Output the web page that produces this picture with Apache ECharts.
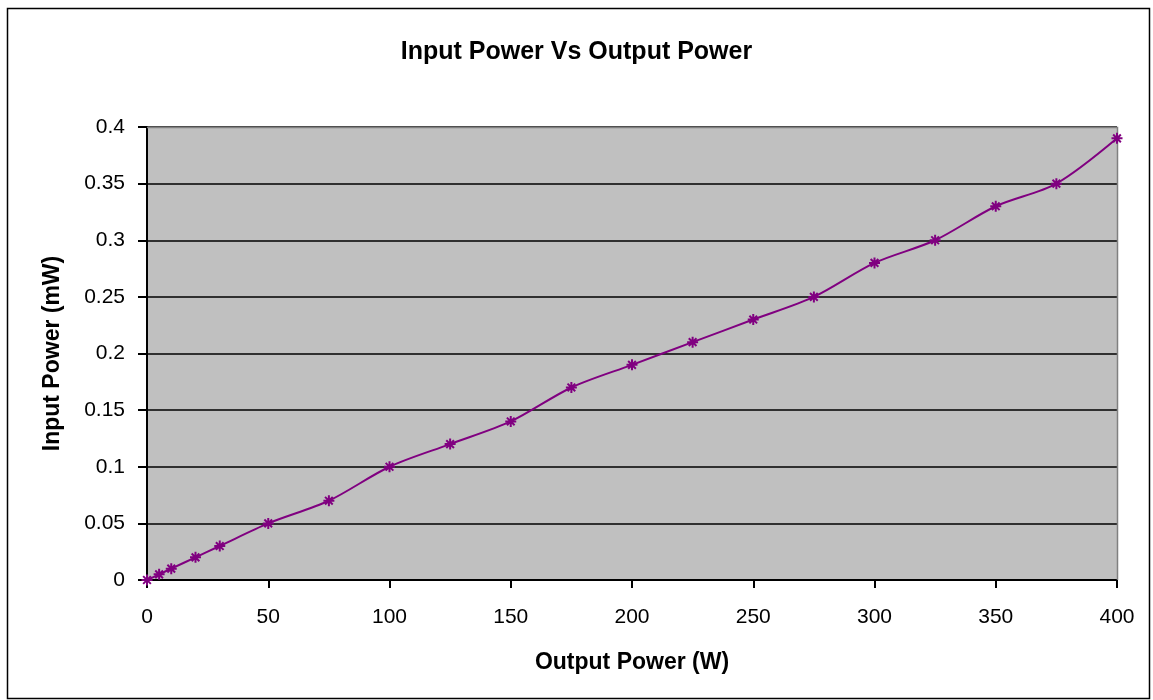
<!DOCTYPE html>
<html><head><meta charset="utf-8">
<script src="https://cdn.jsdelivr.net/npm/echarts@6/dist/echarts.min.js"></script>
<style>html,body{margin:0;padding:0;background:#fff}#c{width:1153px;height:700px}</style>
</head><body><div id="c"></div>
<script>
const outputPower = [0, 5, 10, 20, 30, 50, 75, 100, 125, 150, 175, 200, 225, 250, 275, 300, 325, 350, 375, 400];
const inputPower = [0, 0.005, 0.01, 0.02, 0.03, 0.05, 0.07, 0.1, 0.12, 0.14, 0.17, 0.19, 0.21, 0.23, 0.25, 0.28, 0.30, 0.33, 0.35, 0.39];
const titleText = 'Input Power Vs Output Power';
const xName = 'Output Power (W)';
const yName = 'Input Power (mW)';

const chart = echarts.init(document.getElementById('c'));
const F = 'Liberation Sans, Arial, sans-serif';
chart.setOption({
  animation: false,
  backgroundColor: '#fff',
  title: {text: titleText, left: 'center', top: 35, textStyle: {fontFamily: F, fontWeight: 'bold', fontSize: 25, color: '#000'}},
  graphic: [
    {type: 'rect', shape: {x: 7.5, y: 8.5, width: 1142, height: 690}, style: {fill: 'none', stroke: '#000', lineWidth: 1.5}, silent: true, z: -1},
    {type: 'polyline', shape: {points: [[147, 127.5], [1117.5, 127.5], [1117.5, 580]]}, style: {fill: 'none', stroke: '#808080', lineWidth: 1.5}, z: 5}
  ],
  grid: {left: 147, top: 127, right: 36, bottom: 120, show: true, backgroundColor: '#c0c0c0', borderWidth: 0},
  xAxis: {
    type: 'value', min: 0, max: 400, interval: 50,
    name: xName, nameLocation: 'middle', nameGap: 71,
    nameTextStyle: {fontFamily: F, fontWeight: 'bold', fontSize: 23, color: '#000'},
    axisLine: {show: true, onZero: false, lineStyle: {color: '#000', width: 2}},
    axisTick: {show: true, inside: false, length: 8, lineStyle: {color: '#000', width: 2}},
    axisLabel: {fontFamily: F, fontSize: 21, color: '#000', margin: 27},
    splitLine: {show: false}
  },
  yAxis: {
    type: 'value', min: 0, max: 0.4, interval: 0.05,
    name: yName, nameLocation: 'middle', nameGap: 83, nameRotate: 90,
    nameTextStyle: {fontFamily: F, fontWeight: 'bold', fontSize: 23, color: '#000'},
    axisLine: {show: true, lineStyle: {color: '#000', width: 2}},
    axisTick: {show: true, inside: false, length: 9, lineStyle: {color: '#000', width: 2}},
    axisLabel: {fontFamily: F, fontSize: 21, color: '#000', margin: 22, formatter: v => String(+v.toFixed(2))},
    splitLine: {show: true, lineStyle: {color: '#000', width: 1.5}}
  },
  series: [{
    type: 'line', smooth: 0.3,
    data: outputPower.map((x, i) => [x, inputPower[i]]),
    lineStyle: {color: '#800080', width: 2},
    symbol: 'path://M0,5L10,5M5,0L5,10M1.5,1.5L8.5,8.5M8.5,1.5L1.5,8.5',
    symbolSize: 11,
    itemStyle: {color: 'rgba(0,0,0,0)', borderColor: '#800080', borderWidth: 2},
    clip: false, z: 10
  }]
});
</script></body></html>
